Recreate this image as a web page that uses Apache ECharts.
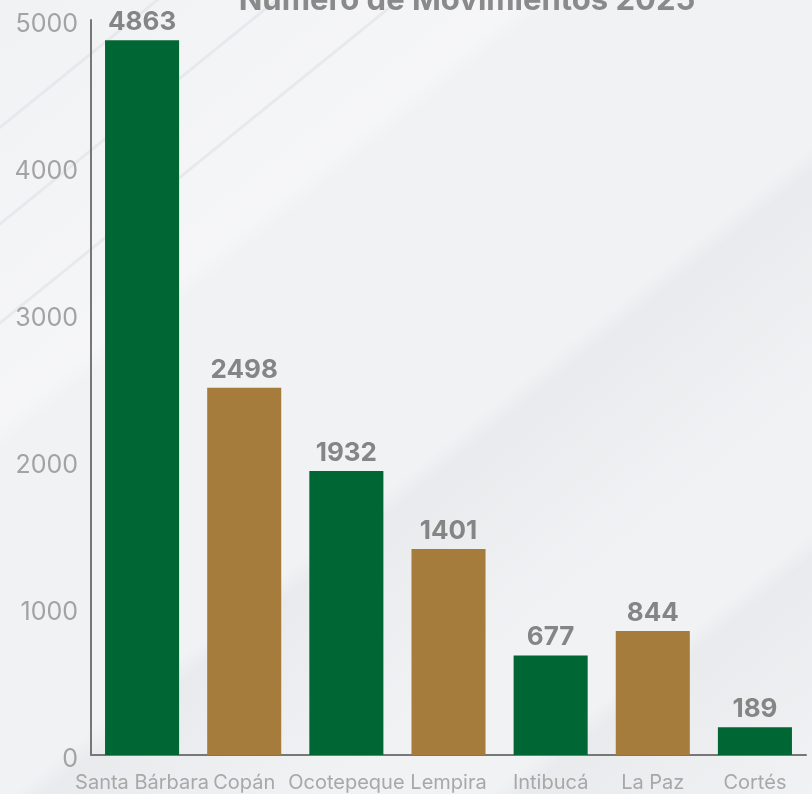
<!DOCTYPE html>
<html>
<head>
<meta charset="utf-8">
<script src="https://cdn.jsdelivr.net/npm/echarts@6/dist/echarts.min.js"></script>
<style>
  html, body { margin: 0; padding: 0; }
  /* light grey backdrop with thin diagonal strokes and soft shaded bands */
  #chart {
    width: 812px; height: 794px;
    background-color: #f1f2f4;
    background-image:
      linear-gradient(141deg, rgba(0,0,0,0) 97px, rgba(224,225,229,0.6) 98px, rgba(224,225,229,0.6) 100px, rgba(0,0,0,0) 101px),
      linear-gradient(141deg, rgba(0,0,0,0) 172px, rgba(224,225,229,0.6) 173px, rgba(224,225,229,0.6) 175px, rgba(0,0,0,0) 176px),
      linear-gradient(141deg, rgba(0,0,0,0) 249px, rgba(224,225,229,0.6) 250px, rgba(224,225,229,0.6) 252px, rgba(0,0,0,0) 253px),
      linear-gradient(141deg, rgba(255,255,255,0) 0px, rgba(255,255,255,0.3) 330px, rgba(255,255,255,0) 350px),
      linear-gradient(141deg, rgba(210,212,216,0) 625px, rgba(210,212,216,0.25) 645px, rgba(210,212,216,0) 820px),
      linear-gradient(141deg, rgba(210,212,216,0) 925px, rgba(210,212,216,0.25) 945px, rgba(210,212,216,0) 1130px);
  }
</style>
</head>
<body>
<div id="chart"></div>
<script>
// Movimientos por departamento, 2025
const departamentos = ['Santa Bárbara', 'Copán', 'Ocotepeque', 'Lempira', 'Intibucá', 'La Paz', 'Cortés'];
const movimientos = [4863, 2498, 1932, 1401, 677, 844, 189];
const coloresBarra = ['#006633', '#a57c3c'];

const chart = echarts.init(document.getElementById('chart'), null, { renderer: 'canvas' });

chart.setOption({
  backgroundColor: 'transparent',
  textStyle: { fontFamily: 'Inter, Roboto, sans-serif' },
  title: {
    text: 'Número de Movimientos 2025',
    left: 462,
    textAlign: 'center',
    top: -20,
    textStyle: { color: '#8a8a8a', fontSize: 31, fontWeight: 'bold', fontFamily: 'Inter, sans-serif' }
  },
  grid: { left: 91, right: 6, top: 20, bottom: 39, containLabel: false },
  xAxis: {
    type: 'category',
    data: departamentos,
    axisLine: { show: true, lineStyle: { color: '#777777', width: 2 } },
    axisTick: { show: false },
    axisLabel: { color: '#a8a8a8', fontSize: 20, margin: 18, interval: 0, fontFamily: 'Inter, sans-serif' }
  },
  yAxis: {
    type: 'value',
    min: 0,
    max: 5000,
    interval: 1000,
    axisLine: { show: true, lineStyle: { color: '#777777', width: 2 } },
    axisTick: { show: false },
    splitLine: { show: false },
    axisLabel: {
      margin: 13,
      formatter: (v) => '{n|' + v + '}',
      rich: {
        n: { color: '#a3a3a3', fontSize: 25, fontFamily: 'Inter, sans-serif', padding: [8, 0, 0, 0] }
      }
    }
  },
  series: [{
    type: 'bar',
    data: movimientos.map((v, i) => ({ value: v, itemStyle: { color: coloresBarra[i % 2] } })),
    barWidth: '72.5%',
    label: {
      show: true,
      position: 'top',
      distance: 5,
      color: '#858585',
      fontSize: 26,
      fontWeight: 'bold',
      fontFamily: 'Inter, sans-serif'
    }
  }]
});
</script>
</body>
</html>
